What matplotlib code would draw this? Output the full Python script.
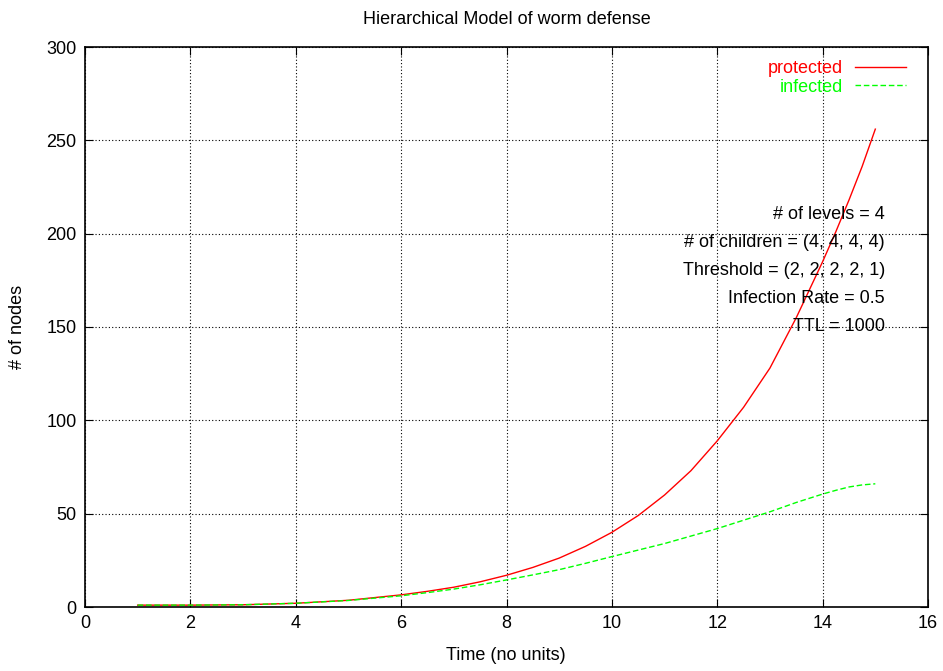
import matplotlib
matplotlib.use("Agg")
import matplotlib.pyplot as plt

plt.rcParams['font.family'] = ['Liberation Sans', 'DejaVu Sans']

time = [1, 2, 3, 4, 5, 6, 6.5, 7, 7.5, 8, 8.5, 9, 9.5, 10, 10.5, 11, 11.5, 12,
        12.5, 13, 13.5, 14, 14.25, 14.5, 14.75, 15]
protected = [1, 1, 1.2, 2, 3.6, 6.5, 8.4, 10.6, 13.5, 17, 21.2, 26.2, 32.5, 40,
             49, 60, 73, 89, 107, 128, 155, 185, 201, 218, 236, 256]
infected = [1, 1, 1.2, 2, 3.5, 6, 7.7, 9.6, 11.9, 14.5, 17.2, 20, 23.4, 27,
            30.5, 34, 38, 42, 46.5, 51, 56, 60.5, 62.5, 64.3, 65.4, 66]

annotations = ["# of levels = 4", "# of children = (4, 4, 4, 4)",
               "Threshold = (2, 2, 2, 2, 1)", "Infection Rate = 0.5", "TTL = 1000"]

fig = plt.figure(figsize=(9.43, 6.71), dpi=100)
ax = fig.add_axes([85/943, 1-607/671, (928-85)/943, (607-47)/671])

ax.plot(time, protected, color='#ff0000', lw=1, label='protected')
ax.plot(time, infected, color='#00ff00', lw=1, ls=(0, (4, 2)), label='infected')

ax.set_xlim(0, 16)
ax.set_ylim(0, 300)
ax.set_xticks(range(0, 17, 2))
ax.set_yticks(range(0, 301, 50))
ax.grid(True, color='black', ls=(0, (1, 2)), lw=0.8)
ax.tick_params(direction='in', top=True, right=True, length=6, labelsize=13, pad=6)
for s in ax.spines.values():
    s.set_linewidth(1.2)

fig.text(0.5 * (85 + 928) / 943, 1 - 20/671, "Hierarchical Model of worm defense",
         fontsize=13, ha='center', va='center')
ax.set_xlabel("Time (no units)", fontsize=13)
ax.xaxis.set_label_coords((506-85)/843, -(647-607)/560)
ax.set_ylabel("# of nodes", fontsize=13)
ax.yaxis.set_label_coords(-(85-26)/843, (607-327)/560)

leg = ax.legend(loc='upper right', bbox_to_anchor=(1 - 22/843, 1 - 13/560),
                frameon=False, markerfirst=False, fontsize=13,
                handlelength=2.8, borderaxespad=0.0, borderpad=0.0,
                labelspacing=0.1, handletextpad=0.7)
for t, l in zip(leg.get_texts(), leg.get_lines()):
    t.set_color(l.get_color())

ypix = [215, 243, 271, 299, 327]
for txt, yp in zip(annotations, ypix):
    ax.text((885-85)/(928-85), (607-yp)/(607-47), txt, transform=ax.transAxes,
            ha='right', va='center', fontsize=13)

fig.savefig("out.png", dpi=100)
